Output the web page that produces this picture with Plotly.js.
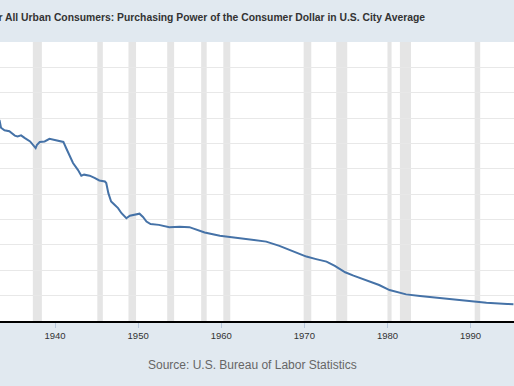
<!DOCTYPE html>
<html>
<head>
<meta charset="utf-8">
<script src="https://cdn.plot.ly/plotly-3.0.1.min.js"></script>
<style>
  html, body { margin: 0; padding: 0; background: #e1e9f0; }
  #chart { width: 514px; height: 386px; }
</style>
</head>
<body>
<div id="chart"></div>
<script>
// Purchasing power of the consumer dollar (index 1982-84=100)
const dates = [
  '1933-04','1933-05','1933-07','1933-12','1934-07','1934-11','1935-03','1935-07','1935-12',
  '1936-05','1937-01','1937-09','1937-11','1938-03','1938-10','1939-05','1939-09','1940-03',
  '1940-10','1941-01','1941-05','1941-10','1942-03','1942-10','1943-03','1943-07','1944-03',
  '1944-10','1945-05','1946-01','1946-03','1946-06','1946-10','1947-03','1947-08','1948-01',
  '1948-08','1949-01','1949-07','1950-03','1950-08','1951-01','1951-07','1952-07','1953-10',
  '1955-01','1956-03','1957-01','1958-01','1959-11','1961-11','1963-11','1965-06','1967-01',
  '1968-09','1970-04','1971-06','1972-09','1973-09','1974-12','1975-12','1977-01','1978-01',
  '1979-01','1980-04','1981-04','1982-04','1983-12','1985-12','1987-12','1989-12','1991-12',
  '1994-06','1995-03'
];
const purchasingPower = [
  794, 790, 762, 752, 748, 739, 731, 728, 732,
  722, 708, 682, 695, 706, 708, 718, 715, 712,
  708, 706, 682, 649, 623, 596, 573, 577, 573,
  564, 554, 550, 544, 504, 471, 458, 445, 425,
  405, 415, 419, 423, 410, 392, 382, 379, 370,
  372, 370, 359, 349, 336, 327, 320, 313, 296,
  274, 254, 244, 234, 217, 192, 179, 166, 155,
  142, 122, 112, 105, 99, 92, 86, 78, 72,
  67, 66
];
// NBER recessions (shaded)
const recessionStarts = ['1937-05-01','1945-02-01','1948-11-01','1953-07-01','1957-08-01','1960-04-01','1969-12-01','1973-11-01','1980-01-01','1981-07-01','1990-07-01'];
const recessionEnds   = ['1938-06-01','1945-10-01','1949-10-01','1954-05-01','1958-04-01','1961-02-01','1970-11-01','1975-03-01','1980-07-01','1982-11-01','1991-03-01'];
const tickYears = ['1940','1950','1960','1970','1980','1990'];

const titleText = 'Consumer Price Index for All Urban Consumers: Purchasing Power of the Consumer Dollar in U.S. City Average';
const sourceText = 'Source: U.S. Bureau of Labor Statistics';

const shapes = recessionStarts.map((s, i) => ({
  type: 'rect', xref: 'x', yref: 'paper',
  x0: s, x1: recessionEnds[i], y0: 0, y1: 1,
  fillcolor: '#e5e5e5', line: { width: 0 }, layer: 'below'
}));

const trace = {
  type: 'scatter', mode: 'lines',
  x: dates, y: purchasingPower,
  line: { color: '#4572a7', width: 2 },
  hoverinfo: 'skip'
};

const layout = {
  width: 514, height: 386,
  paper_bgcolor: '#e1e9f0',
  plot_bgcolor: '#ffffff',
  margin: { l: 0, r: 0, t: 42, b: 65, pad: 0 },
  showlegend: false,
  font: { family: 'Liberation Sans, Arial, sans-serif' },
  title: {
    text: titleText,
    xref: 'container', yref: 'container',
    x: 425 / 514, xanchor: 'right',
    y: 1 - 17 / 386, yanchor: 'middle',
    font: { family: 'Liberation Sans, Arial, sans-serif', size: 10.35, color: '#333333', weight: 'bold' }
  },
  xaxis: {
    type: 'date',
    range: ['1933-05-18', '1995-03-25'],
    tickvals: tickYears.map(y => y + '-01-01'),
    ticktext: tickYears,
    ticks: 'outside', ticklen: 5, tickwidth: 1, tickcolor: '#b8c8dc',
    showline: true, linecolor: '#000000', linewidth: 1.5,
    showgrid: false, zeroline: false,
    tickfont: { size: 9.5, color: '#333333' }
  },
  yaxis: {
    range: [0, 1100], dtick: 100, tick0: 0,
    showticklabels: false, ticks: '',
    showgrid: true, gridcolor: '#e8e8e8', gridwidth: 1,
    zeroline: false, showline: false
  },
  shapes: shapes,
  annotations: [{
    text: sourceText, showarrow: false,
    xref: 'paper', yref: 'paper',
    x: 252.5 / 514, xanchor: 'center',
    y: (321 - 364.7) / 279, yanchor: 'middle',
    font: { size: 12, color: '#666666' }
  }]
};

Plotly.newPlot('chart', [trace], layout, { displayModeBar: false, staticPlot: true });
</script>
</body>
</html>
